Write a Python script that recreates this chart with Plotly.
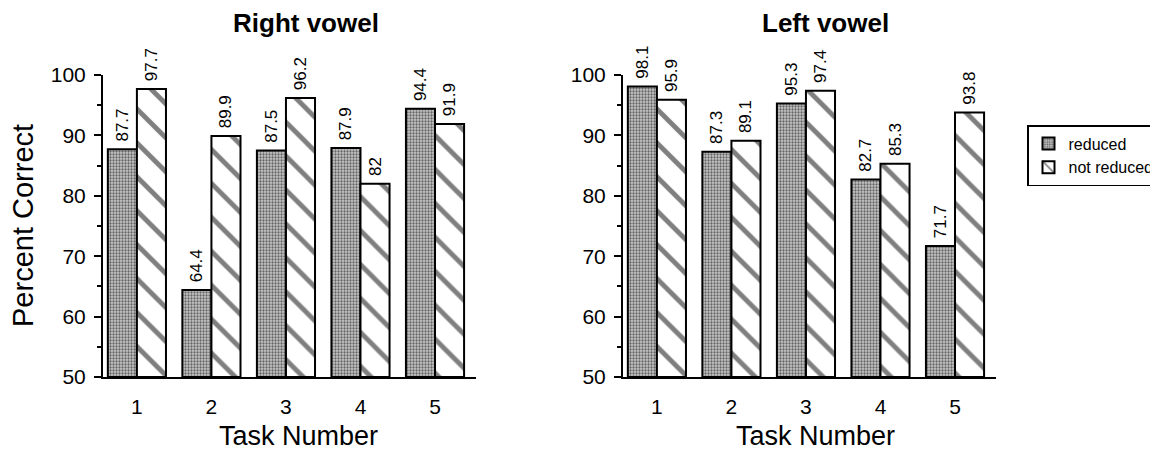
import plotly.graph_objects as go

tasks = [1, 2, 3, 4, 5]
right_reduced = [87.7, 64.4, 87.5, 87.9, 94.4]
right_not_reduced = [97.7, 89.9, 96.2, 82, 91.9]
left_reduced = [98.1, 87.3, 95.3, 82.7, 71.7]
left_not_reduced = [95.9, 89.1, 97.4, 85.3, 93.8]
y_ticks = [50, 60, 70, 80, 90, 100]
Y_BASE = 50

FONT = "Liberation Sans, Arial, sans-serif"
red_pattern = dict(shape=".", size=3, solidity=0.45, fgcolor="black", bgcolor="#c8c8c8", fillmode="overlay")
nr_pattern = dict(shape="\\", size=24, solidity=0.2, fgcolor="black", bgcolor="white", fillmode="overlay")

fig = go.Figure()


def label(v):
    return "\u00a0" + str(v)


def add_pair(xa, ya, red, nr, show):
    fig.add_trace(go.Bar(
        x=tasks, y=[v - Y_BASE for v in red], base=Y_BASE, name="reduced",
        xaxis=xa, yaxis=ya, showlegend=show, legendgroup="r",
        marker=dict(color="white", pattern=red_pattern, line=dict(color="black", width=2)),
        text=[label(v) for v in red], textposition="outside", textangle=-90, constraintext="none",
        textfont=dict(family=FONT, size=17, color="black"), cliponaxis=False,
        hovertemplate="%{text}<extra></extra>"))
    fig.add_trace(go.Bar(
        x=tasks, y=[v - Y_BASE for v in nr], base=Y_BASE, name="not reduced",
        xaxis=xa, yaxis=ya, showlegend=show, legendgroup="n",
        marker=dict(color="white", pattern=nr_pattern, line=dict(color="black", width=2)),
        text=[label(v) for v in nr], textposition="outside", textangle=-90, constraintext="none",
        textfont=dict(family=FONT, size=17, color="black"), cliponaxis=False,
        hovertemplate="%{text}<extra></extra>"))


add_pair("x", "y", right_reduced, right_not_reduced, True)
add_pair("x2", "y2", left_reduced, left_not_reduced, False)

W, H = 1158, 450
OFF = 8  # page body margin
def px(v):
    return (v - OFF) / W
def py(v):
    return 1 - (v - OFF) / H

ydom = [py(377), py(75)]
xrange_ = [0.545, 5.55]

xcommon = dict(tickvals=tasks, ticktext=[str(t) for t in tasks], range=xrange_,
               showline=True, linecolor="black", linewidth=2, ticks="",
               ticklabelstandoff=10,
               tickfont=dict(family=FONT, size=21, color="black"),
               showgrid=False, zeroline=False)
ycommon = dict(range=[50, 100], tickvals=y_ticks, showline=True, linecolor="black", linewidth=2,
               ticks="outside", ticklen=7, tickwidth=2, tickcolor="black", ticklabelstandoff=4,
               tickfont=dict(family=FONT, size=21, color="black"),
               minor=dict(dtick=5, ticks="outside", ticklen=4, tickwidth=1.5, tickcolor="black"),
               showgrid=False, zeroline=False, domain=ydom)

title_font = dict(family=FONT, size=26, color="black")
axis_title_font = dict(family=FONT, size=27, color="black")

fig.update_layout(
    width=W, height=H,
    margin=dict(l=0, r=0, t=0, b=0, autoexpand=False),
    paper_bgcolor="white", plot_bgcolor="white",
    barmode="group", bargap=0.22, bargroupgap=0,
    font=dict(family=FONT, color="black"),
    xaxis=dict(domain=[px(103), px(476)], anchor="y", **xcommon),
    yaxis=dict(anchor="x", **ycommon),
    xaxis2=dict(domain=[px(623), px(996)], anchor="y2", **xcommon),
    yaxis2=dict(anchor="x2", **ycommon),
    legend=dict(x=px(1027), y=py(125), xanchor="left", yanchor="top",
                bordercolor="black", borderwidth=1.5, bgcolor="white",
                font=dict(family=FONT, size=16, color="black"), tracegroupgap=0,
                itemwidth=30, traceorder="normal"),
    annotations=[
        dict(text="<b>Right vowel</b>", x=px(306), y=py(23), xref="paper", yref="paper",
             xanchor="center", yanchor="middle", showarrow=False, font=title_font),
        dict(text="<b>Left vowel</b>", x=px(825), y=py(23), xref="paper", yref="paper",
             xanchor="center", yanchor="middle", showarrow=False, font=title_font),
        dict(text="Percent Correct", x=px(23), y=py(226), xref="paper", yref="paper",
             xanchor="center", yanchor="middle", textangle=-90, showarrow=False,
             font=dict(family=FONT, size=29, color="black")),
        dict(text="Task Number", x=px(298), y=py(436), xref="paper", yref="paper",
             xanchor="center", yanchor="middle", showarrow=False, font=axis_title_font),
        dict(text="Task Number", x=px(815), y=py(436), xref="paper", yref="paper",
             xanchor="center", yanchor="middle", showarrow=False, font=axis_title_font),
    ],
)

fig.write_html("out.html")
